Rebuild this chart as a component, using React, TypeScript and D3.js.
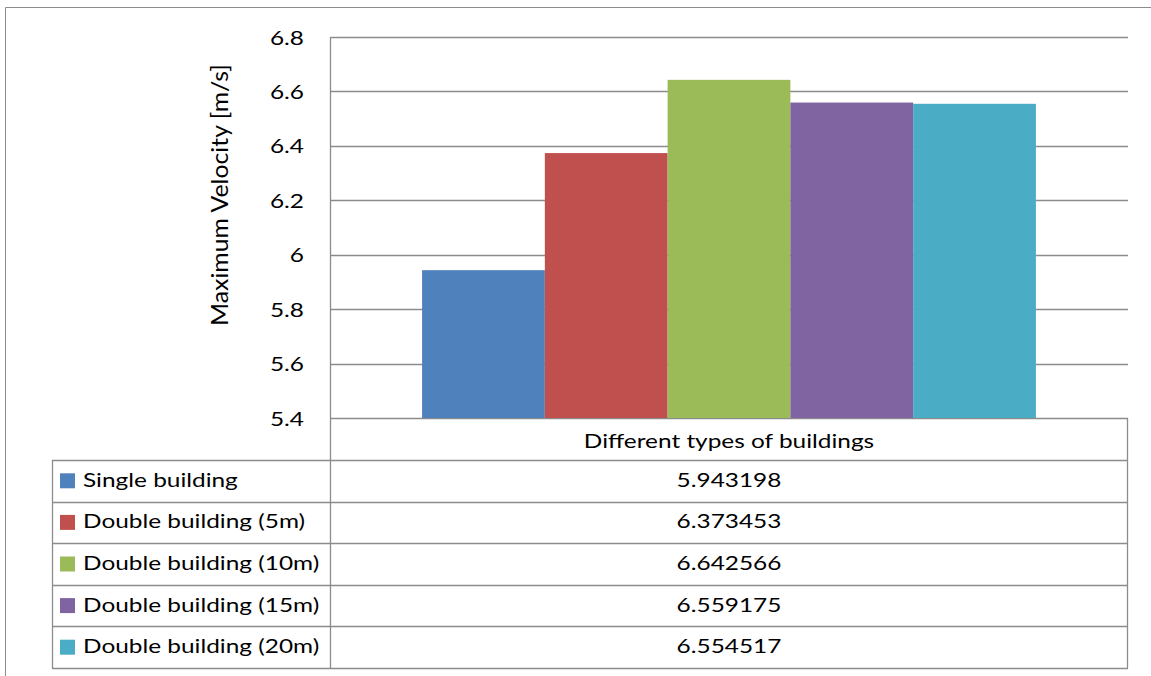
import React from "react";
import * as d3 from "d3";

const seriesNames = [
  "Single building",
  "Double building (5m)",
  "Double building (10m)",
  "Double building (15m)",
  "Double building (20m)",
];
const seriesValues = [5.943198, 6.373453, 6.642566, 6.559175, 6.554517];
const seriesColors = ["#4F81BD", "#C0504D", "#9BBB59", "#8064A2", "#4BACC6"];
const categoryLabel = "Different types of buildings";
const yTicks = [5.4, 5.6, 5.8, 6, 6.2, 6.4, 6.6, 6.8];
const yTitle = "Maximum Velocity [m/s]";

const W = 1151;
const H = 676;
const plotLeft = 330;
const plotRight = 1128;
const plotTop = 37;
const plotBottom = 418;
const headerBottom = 460;
const tableBottom = 668;
const tableLeft = 52;
const FONT = "Lato, 'Open Sans', sans-serif";
const GRID = "#8c8c8c";
const SX = 1.22;

function T({
  x,
  y,
  anchor = "start",
  size = 20,
  sx = SX,
  rotate = 0,
  children,
}: {
  x: number;
  y: number;
  anchor?: string;
  size?: number;
  sx?: number;
  rotate?: number;
  children: React.ReactNode;
}) {
  return (
    <text
      transform={`translate(${x},${y}) rotate(${rotate}) scale(${sx},1)`}
      textAnchor={anchor}
      fontSize={size}
      fill="#000"
    >
      {children}
    </text>
  );
}

export default function App() {
  const y = d3.scaleLinear().domain([5.4, 6.8]).range([plotBottom, plotTop]);
  const cat = d3.scaleBand().domain([categoryLabel]).range([plotLeft, plotRight]).paddingInner(0);
  const bw = cat.bandwidth();
  // Excel gap width 150%: 5 bars + 1.5 bar gap
  const barW = bw / (seriesNames.length + 1.5);
  const x = d3
    .scaleBand()
    .domain(seriesNames)
    .range([cat(categoryLabel)! + barW * 0.75, cat(categoryLabel)! + bw - barW * 0.75])
    .padding(0);
  const rowH = (tableBottom - headerBottom) / seriesNames.length;
  const row = d3.scaleBand().domain(seriesNames).range([headerBottom, tableBottom]);

  return (
    <svg
      width={W}
      height={H}
      style={{ position: "absolute", left: 0, top: 0, background: "#fff" }}
      fontFamily={FONT}
    >
      {/* outer frame */}
      <line x1={5.5} y1={7.5} x2={W} y2={7.5} stroke={GRID} strokeWidth={1} />
      <line x1={5.5} y1={7.5} x2={5.5} y2={H} stroke={GRID} strokeWidth={1} />

      {/* gridlines */}
      {yTicks.map((t) => (
        <line
          key={"g" + t}
          x1={plotLeft}
          x2={plotRight}
          y1={Math.round(y(t)) + 0.5}
          y2={Math.round(y(t)) + 0.5}
          stroke={GRID}
          strokeWidth={1.3}
        />
      ))}

      {/* bars */}
      {seriesNames.map((s, i) => (
        <rect
          key={"b" + s}
          x={x(s)}
          y={y(seriesValues[i])}
          width={x.bandwidth()}
          height={y(5.4) - y(seriesValues[i])}
          fill={seriesColors[i]}
        />
      ))}

      {/* y tick labels */}
      {yTicks.map((t) => (
        <T key={"t" + t} x={304} y={y(t) + 7.5} anchor="end">
          {d3.format("~g")(t)}
        </T>
      ))}

      {/* y title */}
      <T x={228} y={195} anchor="middle" size={23} sx={1.08} rotate={-90}>
        {yTitle}
      </T>

      {/* y axis line */}
      <line x1={plotLeft + 0.5} x2={plotLeft + 0.5} y1={plotTop} y2={tableBottom} stroke={GRID} strokeWidth={1.3} />

      {/* header row */}
      <line x1={plotRight - 0.5} x2={plotRight - 0.5} y1={plotBottom} y2={tableBottom} stroke={GRID} strokeWidth={1.3} />
      <T x={(plotLeft + plotRight) / 2} y={(plotBottom + headerBottom) / 2 + 9} anchor="middle">
        {categoryLabel}
      </T>

      {/* data table */}
      <line x1={tableLeft + 0.5} x2={tableLeft + 0.5} y1={headerBottom} y2={tableBottom} stroke={GRID} strokeWidth={1.3} />
      {seriesNames.map((s) => (
        <line
          key={"r" + s}
          x1={tableLeft}
          x2={plotRight}
          y1={Math.round(row(s)!) + 0.5}
          y2={Math.round(row(s)!) + 0.5}
          stroke={GRID}
          strokeWidth={1.3}
        />
      ))}
      <line x1={tableLeft} x2={plotRight} y1={tableBottom + 0.5} y2={tableBottom + 0.5} stroke={GRID} strokeWidth={1.3} />

      {seriesNames.map((s, i) => (
        <g key={"l" + s}>
          <rect x={60} y={row(s)! + rowH / 2 - 7.5} width={15} height={15} fill={seriesColors[i]} />
          <T x={83} y={row(s)! + rowH / 2 + 6}>
            {s}
          </T>
          <T x={(plotLeft + plotRight) / 2} y={row(s)! + rowH / 2 + 6} anchor="middle">
            {seriesValues[i].toFixed(6)}
          </T>
        </g>
      ))}
    </svg>
  );
}
